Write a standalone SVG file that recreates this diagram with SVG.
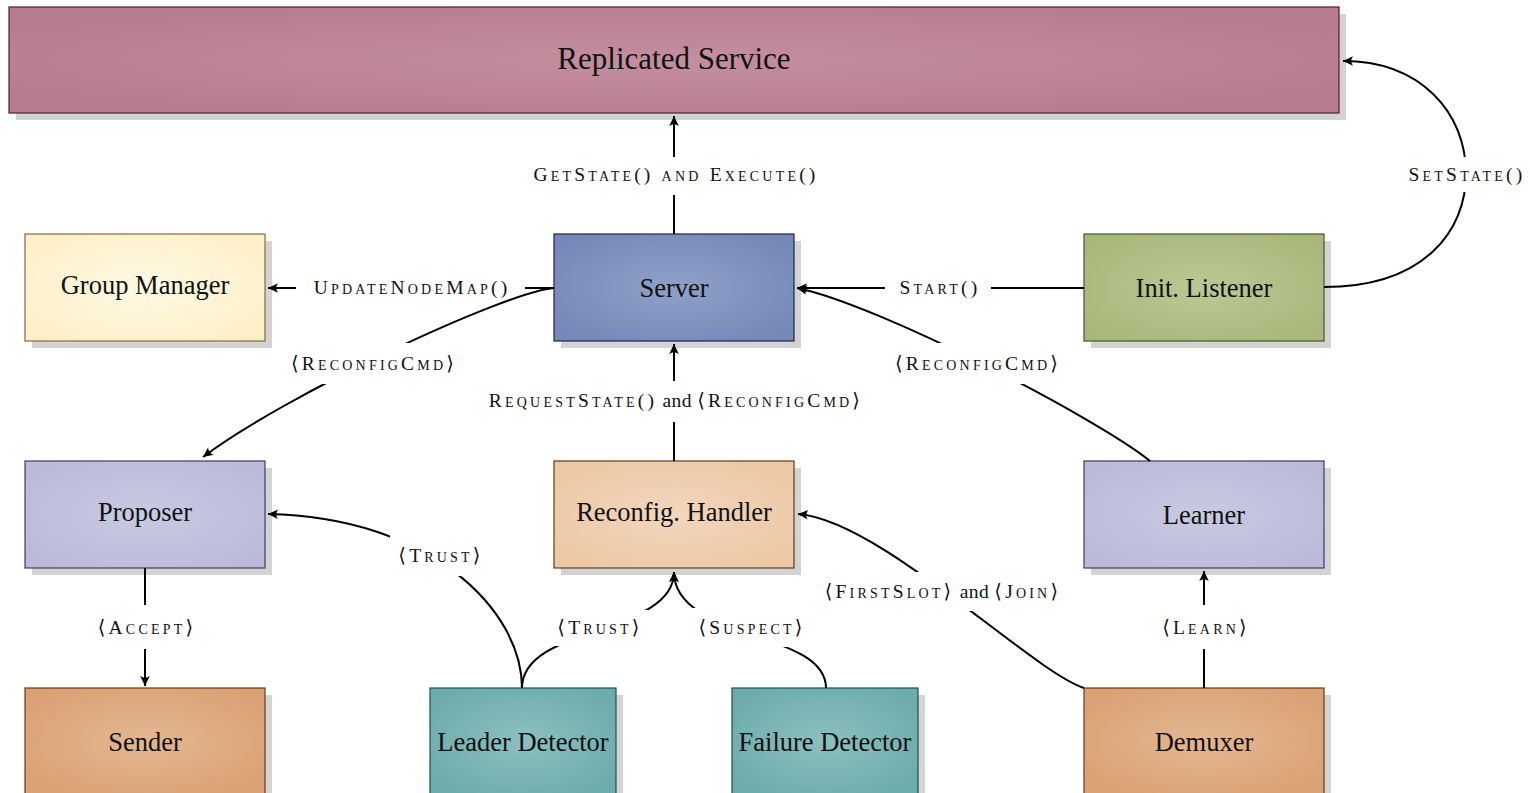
<svg xmlns="http://www.w3.org/2000/svg" width="1530" height="793" viewBox="0 0 1530 793">
  <style>
    .shadow { fill: #d3d3d3; }
    .box { stroke-width: 1.2; }
    .name { font-family: "Liberation Serif", "DejaVu Serif", serif; font-size: 26.5px; fill: #111; text-anchor: middle; dominant-baseline: central; }
    .title { font-size: 31px; }
    .lbl { font-family: "Liberation Serif", "DejaVu Serif", serif; font-size: 19.5px; font-variant: small-caps; letter-spacing: 3.2px; fill: #111; text-anchor: middle; dominant-baseline: central; }
    .plain { font-variant: normal; letter-spacing: 0.4px; }
    .edge { fill: none; stroke: #000; stroke-width: 2; }
    .tip { marker-end: url(#arrow); }
  </style>
  <defs>
    <marker id="arrow" markerUnits="userSpaceOnUse" viewBox="-12 -6 14 12" refX="0" refY="0" markerWidth="14" markerHeight="12" orient="auto">
      <path d="M0,0 L-10,-4.8 Q-6.5,0 -10,4.8 Z" fill="#000"/>
    </marker>
    <radialGradient id="gRose" cx="50%" cy="50%" r="60%"><stop offset="0" stop-color="#c48fa0"/><stop offset="1" stop-color="#b77b8e"/></radialGradient>
    <radialGradient id="gBlue" cx="50%" cy="50%" r="60%"><stop offset="0" stop-color="#8fa0c8"/><stop offset="1" stop-color="#7788b8"/></radialGradient>
    <radialGradient id="gCream" cx="50%" cy="50%" r="60%"><stop offset="0" stop-color="#fff9e4"/><stop offset="1" stop-color="#fdf0c8"/></radialGradient>
    <radialGradient id="gOlive" cx="50%" cy="50%" r="60%"><stop offset="0" stop-color="#bbc895"/><stop offset="1" stop-color="#a8b87a"/></radialGradient>
    <radialGradient id="gLilac" cx="50%" cy="50%" r="60%"><stop offset="0" stop-color="#c9c9e3"/><stop offset="1" stop-color="#bbbbd9"/></radialGradient>
    <radialGradient id="gPeach" cx="50%" cy="50%" r="60%"><stop offset="0" stop-color="#f3d6bc"/><stop offset="1" stop-color="#ecc8a5"/></radialGradient>
    <radialGradient id="gOrange" cx="50%" cy="50%" r="60%"><stop offset="0" stop-color="#e3b792"/><stop offset="1" stop-color="#daa175"/></radialGradient>
    <radialGradient id="gTeal" cx="50%" cy="50%" r="60%"><stop offset="0" stop-color="#8cc0bf"/><stop offset="1" stop-color="#6eabab"/></radialGradient>
    <!-- gaps in the curved connectors where their labels sit -->
    <mask id="curveGaps" maskUnits="userSpaceOnUse" x="0" y="0" width="1530" height="793">
      <rect x="0" y="0" width="1530" height="793" fill="#fff"/>
      <rect x="1395" y="157" width="135" height="35" fill="#000"/>
      <rect x="280" y="343" width="185" height="41" fill="#000"/>
      <rect x="885" y="343" width="183" height="41" fill="#000"/>
      <rect x="390" y="535" width="98" height="41" fill="#000"/>
      <rect x="548" y="610" width="100" height="36" fill="#000"/>
      <rect x="690" y="608" width="120" height="39" fill="#000"/>
      <rect x="820" y="572" width="242" height="39" fill="#000"/>
    </mask>
  </defs>

  <rect width="1530" height="793" fill="#fff"/>

  <g id="replicated-service">
    <rect class="shadow" x="16" y="14" width="1330" height="106"/>
    <rect class="box" x="9" y="7" width="1330" height="106" fill="url(#gRose)" stroke="#4d1f30"/>
    <text class="name title" x="674" y="58">Replicated Service</text>
  </g>

  <g id="group-manager">
    <rect class="shadow" x="32" y="241" width="240" height="107"/>
    <rect class="box" x="25" y="234" width="240" height="107" fill="url(#gCream)" stroke="#7a6e44"/>
    <text class="name" x="145" y="285">Group Manager</text>
  </g>

  <g id="server">
    <rect class="shadow" x="561" y="241" width="240" height="107"/>
    <rect class="box" x="554" y="234" width="240" height="107" fill="url(#gBlue)" stroke="#1d2640"/>
    <text class="name" x="674" y="288">Server</text>
  </g>

  <g id="init-listener">
    <rect class="shadow" x="1091" y="241" width="240" height="107"/>
    <rect class="box" x="1084" y="234" width="240" height="107" fill="url(#gOlive)" stroke="#46552a"/>
    <text class="name" x="1204" y="288">Init. Listener</text>
  </g>

  <g id="proposer">
    <rect class="shadow" x="32" y="468" width="240" height="107"/>
    <rect class="box" x="25" y="461" width="240" height="107" fill="url(#gLilac)" stroke="#3d3d60"/>
    <text class="name" x="145" y="512">Proposer</text>
  </g>

  <g id="reconfig-handler">
    <rect class="shadow" x="561" y="468" width="240" height="107"/>
    <rect class="box" x="554" y="461" width="240" height="107" fill="url(#gPeach)" stroke="#5d3d22"/>
    <text class="name" x="674" y="512">Reconfig. Handler</text>
  </g>

  <g id="learner">
    <rect class="shadow" x="1091" y="468" width="240" height="107"/>
    <rect class="box" x="1084" y="461" width="240" height="107" fill="url(#gLilac)" stroke="#3d3d60"/>
    <text class="name" x="1204" y="515">Learner</text>
  </g>

  <g id="sender">
    <rect class="shadow" x="32" y="695" width="240" height="107"/>
    <rect class="box" x="25" y="688" width="240" height="107" fill="url(#gOrange)" stroke="#6a3a18"/>
    <text class="name" x="145" y="742">Sender</text>
  </g>

  <g id="leader-detector">
    <rect class="shadow" x="437" y="695" width="186" height="107"/>
    <rect class="box" x="430" y="688" width="186" height="107" fill="url(#gTeal)" stroke="#244e4e"/>
    <text class="name" x="523" y="742">Leader Detector</text>
  </g>

  <g id="failure-detector">
    <rect class="shadow" x="739" y="695" width="186" height="107"/>
    <rect class="box" x="732" y="688" width="186" height="107" fill="url(#gTeal)" stroke="#244e4e"/>
    <text class="name" x="825" y="742">Failure Detector</text>
  </g>

  <g id="demuxer">
    <rect class="shadow" x="1091" y="695" width="240" height="107"/>
    <rect class="box" x="1084" y="688" width="240" height="107" fill="url(#gOrange)" stroke="#6a3a18"/>
    <text class="name" x="1204" y="742">Demuxer</text>
  </g>

  <g id="connectors">
    <!-- straight connectors, split around their labels -->
    <g id="straight">
      <path class="edge" d="M674,234 V195"/>
      <path class="edge tip" d="M674,157 V116"/>
      <path class="edge" d="M554,288 H525"/>
      <path class="edge tip" d="M296,288 H268"/>
      <path class="edge" d="M1084,288 H991"/>
      <path class="edge tip" d="M885,288 H797"/>
      <path class="edge" d="M674,461 V422"/>
      <path class="edge tip" d="M674,381 V344"/>
      <path class="edge" d="M145,568 V605"/>
      <path class="edge tip" d="M145,649 V686"/>
      <path class="edge" d="M1204,688 V649"/>
      <path class="edge tip" d="M1204,605 V571"/>
    </g>
    <!-- curved connectors -->
    <g id="curved" mask="url(#curveGaps)">
      <path class="edge tip" d="M1324,287 C1425,287 1466,230 1466,174 C1466,112 1420,61 1343,61"/>
      <path class="edge tip" d="M554,288 C505,292 285,395 203,457"/>
      <path class="edge tip" d="M1150,461 C1100,420 880,305 797,288"/>
      <path class="edge tip" d="M522,688 C522,610 430,517 268,514"/>
      <path class="edge tip" d="M522,688 C522,625 674,635 674,572"/>
      <path class="edge tip" d="M826,688 C826,630 674,640 674,572"/>
      <path class="edge tip" d="M1084,688 C1030,670 880,520 798,514"/>
    </g>
    <!-- connector labels -->
    <g id="labels">
      <text class="lbl" x="676" y="174">GetState() and Execute()</text>
      <text class="lbl" x="1467" y="174">SetState()</text>
      <text class="lbl" x="412" y="287">UpdateNodeMap()</text>
      <text class="lbl" x="940" y="287">Start()</text>
      <text class="lbl" x="374" y="363">⟨ReconfigCmd⟩</text>
      <text class="lbl" x="978" y="363">⟨ReconfigCmd⟩</text>
      <text class="lbl" x="676" y="400"><tspan>RequestState()</tspan><tspan class="plain"> and </tspan><tspan>⟨ReconfigCmd⟩</tspan></text>
      <text class="lbl" x="441" y="555">⟨Trust⟩</text>
      <text class="lbl" x="147" y="627">⟨Accept⟩</text>
      <text class="lbl" x="600" y="627">⟨Trust⟩</text>
      <text class="lbl" x="752" y="627">⟨Suspect⟩</text>
      <text class="lbl" x="943" y="591"><tspan>⟨FirstSlot⟩</tspan><tspan class="plain"> and </tspan><tspan>⟨Join⟩</tspan></text>
      <text class="lbl" x="1206" y="627">⟨Learn⟩</text>
    </g>
  </g>
</svg>
